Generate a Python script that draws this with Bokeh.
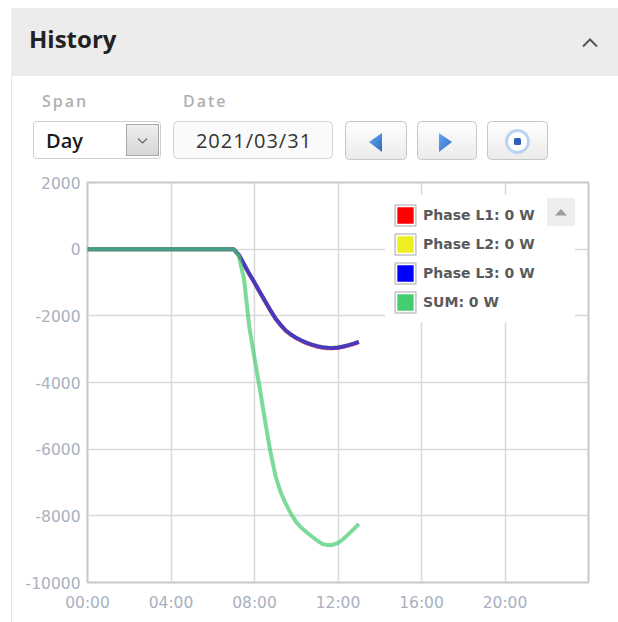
import pandas as pd
from bokeh.plotting import figure
from bokeh.layouts import column
from bokeh.models import (Range1d, FixedTicker, DatetimeTickFormatter, PrintfTickFormatter,
                          Legend, LegendItem, ColumnDataSource, Div)
from bokeh.embed import file_html
from bokeh.resources import INLINE

# ---------------- data ----------------
DATE = "2021-03-31"
SPAN = "Day"
TITLE = "History"
FIELD_LABELS = ["Span", "Date"]

times = ["00:00", "01:00", "02:00", "03:00", "04:00", "05:00", "06:00", "07:00",
         "07:15", "07:30", "07:45", "08:00", "08:15", "08:30", "08:45", "09:00",
         "09:15", "09:30", "09:45", "10:00", "10:15", "10:30", "10:45", "11:00",
         "11:15", "11:30", "11:45", "12:00", "12:15", "12:30", "12:45", "13:00"]

phase_l1 = [0, 0, 0, 0, 0, 0, 0, 0,
            -175, -460, -750, -1010, -1290, -1560, -1830, -2080,
            -2280, -2450, -2570, -2670, -2750, -2820, -2875, -2920,
            -2950, -2970, -2975, -2960, -2930, -2890, -2845, -2790]
phase_l2 = [0, 0, 0, 0, 0, 0, 0, 0,
            -165, -445, -735, -995, -1275, -1545, -1815, -2065,
            -2265, -2435, -2555, -2655, -2735, -2805, -2860, -2905,
            -2935, -2955, -2960, -2945, -2915, -2875, -2830, -2775]
phase_l3 = [0, 0, 0, 0, 0, 0, 0, 0,
            -170, -450, -740, -1000, -1280, -1550, -1820, -2070,
            -2270, -2440, -2560, -2660, -2740, -2810, -2865, -2910,
            -2940, -2960, -2965, -2950, -2920, -2880, -2835, -2780]
sum_w = [0, 0, 0, 0, 0, 0, 0, 0,
         -210, -900, -2330, -3270, -4170, -5130, -6040, -6790,
         -7290, -7640, -7940, -8190, -8360, -8490, -8620, -8740,
         -8840, -8880, -8870, -8810, -8700, -8550, -8400, -8240]

series_names = ["Phase L1", "Phase L2", "Phase L3", "SUM"]
series_colors = ["#ff0000", "#eeee22", "#0000ff", "#44cc6f"]
legend_values = [0, 0, 0, 0]

x_ticks = ["00:00", "04:00", "08:00", "12:00", "16:00", "20:00"]
y_ticks = [2000, 0, -2000, -4000, -6000, -8000, -10000]
y_min, y_max = -10000, 2000

# ---------------- header / controls (HTML + inline SVG) ----------------
W = 618
HEAD_H = 174
header_svg = f"""
<div style="position:relative;width:{W}px;height:{HEAD_H}px;margin:0;padding:0;">
<svg xmlns="http://www.w3.org/2000/svg" width="{W}" height="{HEAD_H}"
     style="position:absolute;left:0;top:0;font-family:'Open Sans',sans-serif;">
  <defs>
    <linearGradient id="btnbg" x1="0" y1="0" x2="0" y2="1">
      <stop offset="0" stop-color="#ffffff"/><stop offset="1" stop-color="#ebebeb"/>
    </linearGradient>
    <linearGradient id="ddbg" x1="0" y1="0" x2="0" y2="1">
      <stop offset="0" stop-color="#eeeeee"/><stop offset="1" stop-color="#d6d6d6"/>
    </linearGradient>
    <linearGradient id="blue" x1="0" y1="0" x2="1" y2="1">
      <stop offset="0" stop-color="#6aa8ee"/><stop offset="1" stop-color="#2d6cc9"/>
    </linearGradient>
  </defs>
  <rect x="11" y="8" width="{W - 11}" height="68" fill="#ececec"/>
  <rect x="11" y="76" width="1" height="{HEAD_H - 76}" fill="#e3e3e3"/>
  <text x="29" y="47.5" font-size="24" font-weight="bold" fill="#222222">{TITLE}</text>
  <polyline points="583,46.5 590,39.5 597,46.5" fill="none" stroke="#555555" stroke-width="2"/>
  <text x="42" y="106.7" font-size="16" font-weight="600" letter-spacing="2" fill="#b0b0b0">{FIELD_LABELS[0]}</text>
  <text x="183" y="106.7" font-size="16" font-weight="600" letter-spacing="2" fill="#b0b0b0">{FIELD_LABELS[1]}</text>

  <rect x="33.5" y="121.5" width="127" height="37" rx="3" fill="#ffffff" stroke="#cfcfcf"/>
  <rect x="126.5" y="124.5" width="32" height="31" fill="url(#ddbg)" stroke="#a9a9a9"/>
  <polyline points="138,138.5 142.5,143 147,138.5" fill="none" stroke="#666666" stroke-width="1.2"/>
  <text x="46" y="148" font-size="20" font-weight="600" fill="#1a1a1a">{SPAN}</text>

  <rect x="173.5" y="121.5" width="159" height="37" rx="4" fill="#fafafa" stroke="#d3d3d3"/>
  <text x="254" y="148" font-size="20" letter-spacing="1" fill="#333333" text-anchor="middle">{DATE.replace("-", "/")}</text>

  <rect x="345.5" y="121.5" width="61" height="38" rx="4" fill="url(#btnbg)" stroke="#c6c6c6"/>
  <rect x="417.5" y="121.5" width="59" height="38" rx="4" fill="url(#btnbg)" stroke="#c6c6c6"/>
  <rect x="487.5" y="121.5" width="60" height="38" rx="4" fill="url(#btnbg)" stroke="#c6c6c6"/>
  <polygon points="369,142 382,133 382,152" fill="url(#blue)"/>
  <polygon points="439,133 439,152 452,142" fill="url(#blue)"/>
  <circle cx="517.5" cy="141.5" r="11" fill="#ffffff" stroke="#b9d4f2" stroke-width="3"/>
  <rect x="514" y="138" width="7" height="7" rx="1.5" fill="#2a62b8"/>
</svg>
</div>
"""
header = Div(text=header_svg, width=W, height=HEAD_H, margin=0)

# ---------------- chart figure ----------------
CH_H = 622 - HEAD_H
t = pd.to_datetime([f"{DATE} {s}" for s in times])
day0 = pd.Timestamp(DATE)
day1 = day0 + pd.Timedelta(hours=24)

src = ColumnDataSource(dict(t=t, l1=phase_l1, l2=phase_l2, l3=phase_l3, s=sum_w))

p = figure(width=W, height=CH_H, x_axis_type="datetime",
           x_range=Range1d(day0, day1), y_range=Range1d(y_min, y_max),
           output_backend="svg", toolbar_location=None, margin=0,
           min_border_left=87, min_border_right=30, min_border_top=8, min_border_bottom=40,
           styles={"background": "linear-gradient(to right, #ffffff 11px, #e3e3e3 11px, "
                                 "#e3e3e3 12px, #ffffff 12px)"})
p.background_fill_color = "white"
p.border_fill_color = None
p.outline_line_color = "#c8c8c8"
p.outline_line_width = 2

tick_ms = [pd.Timestamp(f"{DATE} {s}").value / 1e6 for s in x_ticks]
p.xaxis.ticker = FixedTicker(ticks=tick_ms)
fmt = "%H:%M"
p.xaxis.formatter = DatetimeTickFormatter(microseconds=fmt, milliseconds=fmt, seconds=fmt,
                                          minsec=fmt, minutes=fmt, hourmin=fmt, hours=fmt,
                                          days=fmt, months=fmt, years=fmt)
p.yaxis.ticker = FixedTicker(ticks=y_ticks)
p.yaxis.formatter = PrintfTickFormatter(format="%d")

for ax in (p.xaxis, p.yaxis):
    ax.axis_line_color = None
    ax.major_tick_line_color = None
    ax.minor_tick_line_color = None
    ax.major_tick_out = 0
    ax.major_tick_in = 0
    ax.major_label_text_font = "DejaVu Sans"
    ax.major_label_text_font_size = "15.5px"
    ax.major_label_text_color = "#a9b0bf"
p.xaxis.major_label_standoff = 11
p.yaxis.major_label_standoff = 7

p.grid.grid_line_color = "#d9d9d9"
p.grid.grid_line_width = 1.5
p.xgrid.ticker = FixedTicker(ticks=tick_ms)
p.ygrid.ticker = FixedTicker(ticks=y_ticks)

cols = ["l1", "l2", "l3", "s"]
for c, col in zip(cols, series_colors):
    p.line(x="t", y=c, source=src, line_color=col, line_width=4, line_alpha=0.7, line_join="round")

# legend proxies (zero-size rects, used only for the legend swatches)
items = []
for name, col, v in zip(series_names, series_colors, legend_values):
    r1 = p.rect(x=[t[0]], y=[sum_w[0]], width=0, height=0, fill_color=col,
                line_color="white", line_width=4.5)
    r2 = p.rect(x=[t[0]], y=[sum_w[0]], width=0, height=0, fill_alpha=0,
                line_color="#c4c4c4", line_width=1.5)
    items.append(LegendItem(label=f"{name}: {v} W", renderers=[r1, r2]))

legend = Legend(items=items, location="top_right", margin=13, padding=7, spacing=3,
                glyph_width=26, glyph_height=26, label_standoff=5, label_width=145, label_height=26,
                background_fill_color="white", background_fill_alpha=1.0, border_line_alpha=0,
                label_text_font="DejaVu Sans", label_text_font_size="14px",
                label_text_font_style="bold", label_text_color="#5a5a5a")
p.add_layout(legend)

# legend navigation button (HTML overlay above the legend's top-right corner)
nav_btn = Div(text="""<div style="width:28px;height:28px;background:#eeeeee;">
<svg xmlns="http://www.w3.org/2000/svg" width="28" height="28">
<polygon points="8,17.5 14,11 20,17.5" fill="#9c9c9c"/></svg></div>""",
              width=28, height=28, margin=0,
              styles={"position": "absolute", "left": "547px", "top": "198px", "z-index": "10"})

layout = column(header, p, nav_btn, spacing=0)
open("out.html", "w").write(file_html(layout, INLINE))
